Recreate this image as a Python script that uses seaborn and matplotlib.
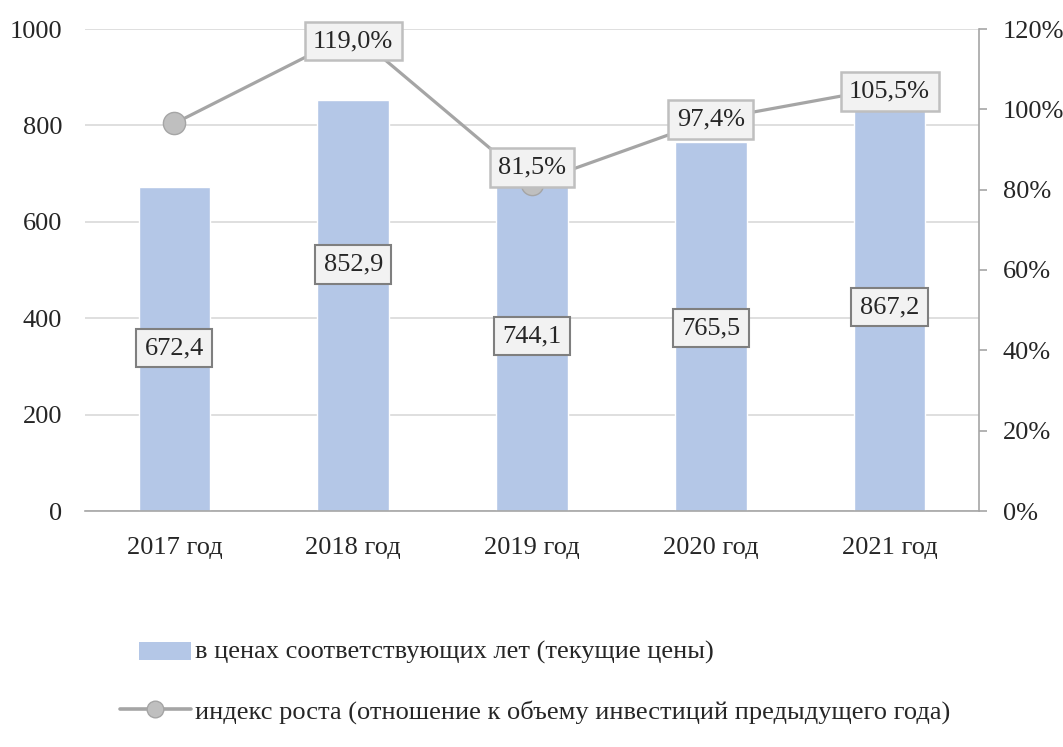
import matplotlib
matplotlib.use("Agg")
import matplotlib.pyplot as plt
import seaborn as sns
import pandas as pd
from matplotlib.patches import Patch, Rectangle
from matplotlib.lines import Line2D
from matplotlib.legend_handler import HandlerPatch

years = ["2017 год", "2018 год", "2019 год", "2020 год", "2021 год"]
invest = [672.4, 852.9, 744.1, 765.5, 867.2]
growth = [96.5, 119.0, 81.5, 97.4, 105.5]
growth_labels = [None, "119,0%", "81,5%", "97,4%", "105,5%"]
left_ticks = [0, 200, 400, 600, 800, 1000]
right_ticks = [0, 20, 40, 60, 80, 100, 120]
bar_name = "в ценах соответствующих лет (текущие цены)"
line_name = "индекс роста (отношение к объему инвестиций предыдущего года)"

sns.set_style("white")
plt.rcParams["font.family"] = ["Liberation Serif", "DejaVu Serif"]
FS = 19

df = pd.DataFrame({"year": years, "invest": invest, "growth": growth})

fig = plt.figure(figsize=(10.63, 7.47), dpi=100)
ax = fig.add_axes([85 / 1063, 1 - 511 / 747, 894 / 1063, 482 / 747])

sns.barplot(data=df, x="year", y="invest", color="#b4c7e7", width=0.4,
            saturation=1, ax=ax, zorder=2)
ax.set_ylim(0, 1000)
ax.set_yticks(left_ticks)
ax.set_yticklabels([str(t) for t in left_ticks], fontsize=FS)
ax.set_xlabel("")
ax.set_ylabel("")
ax.tick_params(axis="x", labelsize=FS, length=0, pad=19)
ax.tick_params(axis="y", length=0, pad=16.5)
ax.grid(axis="y", color="#d9d9d9", linewidth=1.2, zorder=0)
ax.set_axisbelow(True)
for s in ["left", "top", "right"]:
    ax.spines[s].set_visible(False)
ax.spines["bottom"].set_color("#a6a6a6")
ax.spines["bottom"].set_linewidth(1.2)

label_frac = [0.503, 0.6, 0.488, 0.496, 0.488]
for i, v in enumerate(invest):
    ax.text(i, v * label_frac[i], f"{v:.1f}".replace(".", ","), ha="center", va="center",
            fontsize=FS, zorder=5,
            bbox=dict(boxstyle="square,pad=0.32", fc="#f2f2f2", ec="#7f7f7f", lw=1.5))

ax2 = ax.twinx()
sns.lineplot(data=df, x="year", y="growth", color="#a5a5a5", linewidth=2.3,
             marker="o", markersize=16, markerfacecolor="#bfbfbf",
             markeredgecolor="#a5a5a5", markeredgewidth=1.0, ax=ax2, zorder=3)
ax2.set_ylim(0, 120)
ax.set_xlim(-0.5, len(years) - 0.5)
ax2.set_xlim(-0.5, len(years) - 0.5)
ax2.set_yticks(right_ticks)
ax2.set_yticklabels([f"{t}%" for t in right_ticks], fontsize=FS)
ax2.set_ylabel("")
ax2.set_xlabel("")
ax2.tick_params(axis="y", length=6, width=1.2, color="#a6a6a6", pad=11, direction="out")
for s in ["left", "top", "bottom"]:
    ax2.spines[s].set_visible(False)
ax2.spines["right"].set_color("#a6a6a6")
ax2.spines["right"].set_linewidth(1.2)
ax2.grid(False)

label_dy = [0, -2.0, 4.0, 0, -1.0]
for i, (v, lab) in enumerate(zip(growth, growth_labels)):
    if lab is None:
        continue
    ax2.text(i, v + label_dy[i], lab, ha="center", va="center", fontsize=FS, zorder=6,
             bbox=dict(boxstyle="square,pad=0.32", fc="#f2f2f2", ec="#bfbfbf", lw=1.8))


def short_patch(legend, orig_handle, xdescent, ydescent, width, height, fontsize):
    w = width * 0.73
    return Rectangle((width - w - xdescent, -ydescent - height * 0.1), w, height * 1.0)


handles = [Patch(facecolor="#b4c7e7", edgecolor="none"),
           Line2D([0], [0], color="#a5a5a5", linewidth=2.6, marker="o", markersize=12,
                  markerfacecolor="#bfbfbf", markeredgecolor="#a5a5a5")]
leg = fig.legend(handles, [bar_name, line_name], loc="center left",
                 bbox_to_anchor=(0.1126, 1 - 682 / 747), frameon=False, fontsize=FS,
                 labelspacing=1.37, handlelength=2.7, handletextpad=0.15,
                 borderpad=0, borderaxespad=0,
                 handler_map={Patch: HandlerPatch(patch_func=short_patch)})

fig.savefig("out.png", dpi=100)
